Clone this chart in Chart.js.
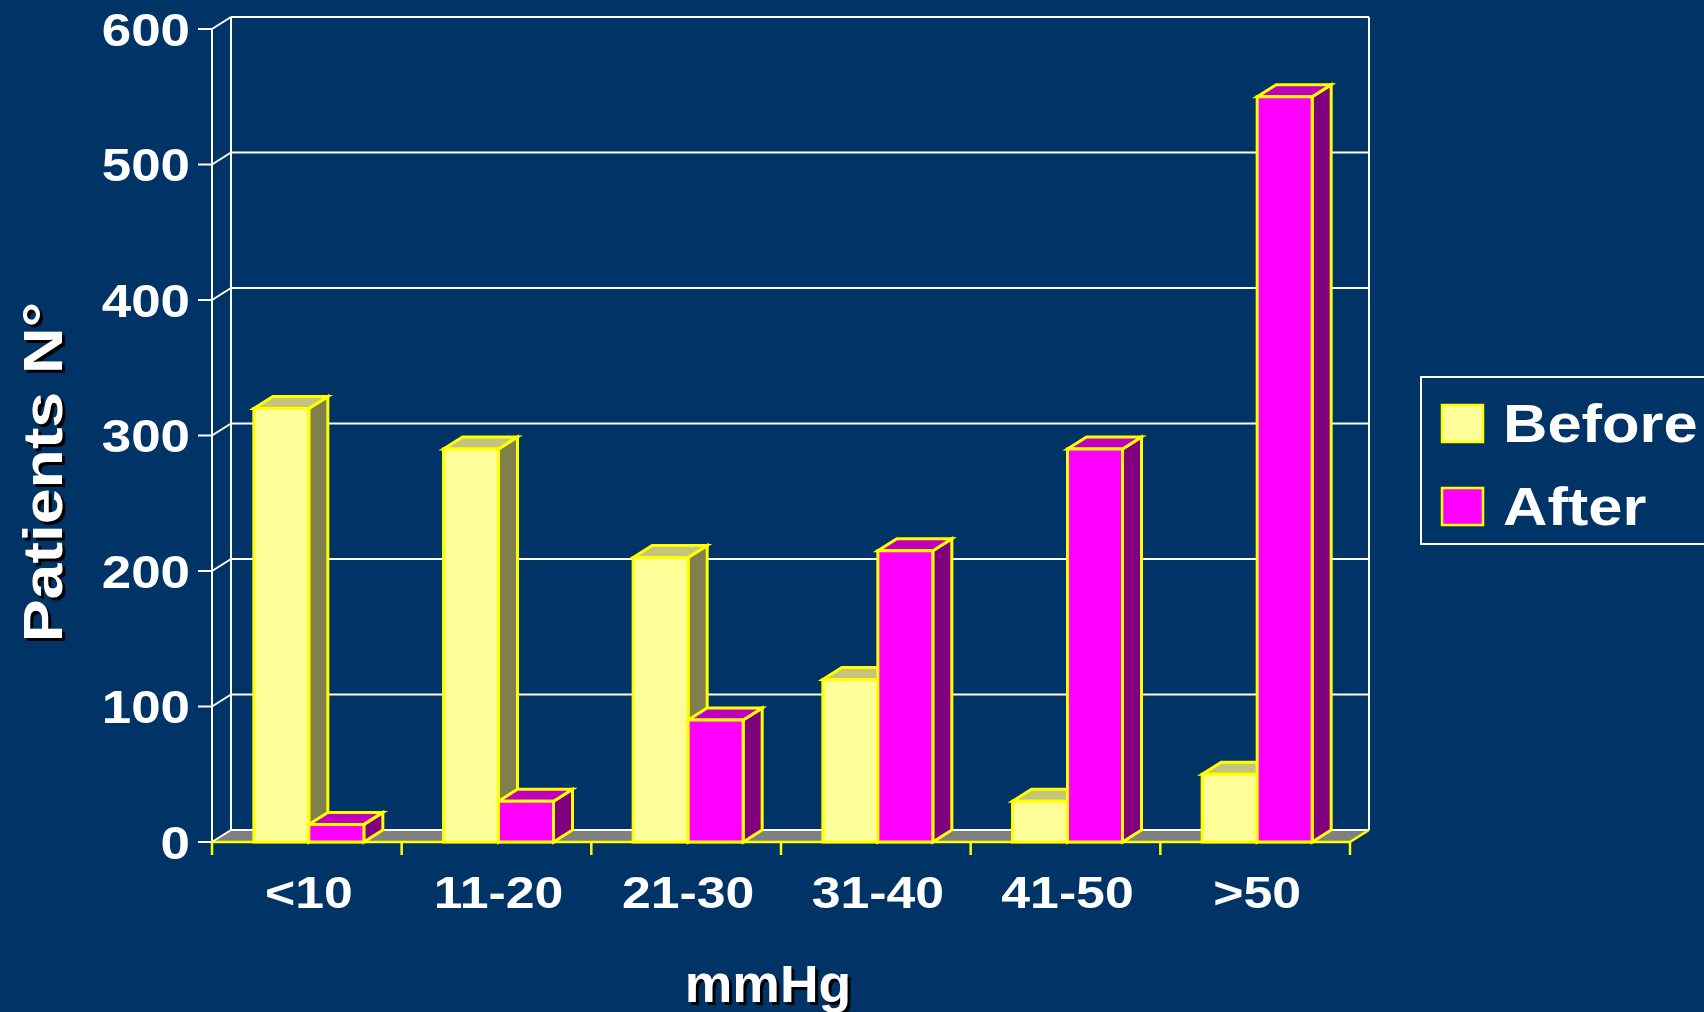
<!DOCTYPE html>
<html>
<head>
<meta charset="utf-8">
<title>Patients N° – Before / After</title>
<script src="https://cdn.jsdelivr.net/npm/chart.js@4/dist/chart.umd.min.js"></script>
<style>
  html, body { margin: 0; padding: 0; background: #003366; overflow: hidden; }
  #wrap { width: 1704px; height: 1012px; position: relative; }
</style>
</head>
<body>
<div id="wrap"><canvas id="c" width="1704" height="1012"></canvas></div>
<script>
// Pressure classes (mmHg) and patient counts per class
const categories = ['<10', '11-20', '21-30', '31-40', '41-50', '>50'];
const beforeValues = [320, 290, 210, 120, 30, 50];
const afterValues = [13, 30, 90, 215, 290, 550];
const yTicks = [0, 100, 200, 300, 400, 500, 600];
const seriesNames = ['Before', 'After'];

const FONT = '"Liberation Sans", Arial, Helvetica, sans-serif';
const BG = '#003366';
const DEPTH_X = 19, DEPTH_Y = -12;   // oblique depth of the 3D box
const BAR_SHIFT = 2;                 // bar cluster sits slightly right of the category centre
const EDGE = '#FFFF00';
const EDGE_W = 3;

const faces = [
  { front: '#FFFF99', top: '#C4C47A', side: '#80804D' },  // Before
  { front: '#FF00FF', top: '#BF00BF', side: '#800080' }   // After
];

function drawText(ctx, text, x, y, o) {
  ctx.save();
  ctx.translate(x, y);
  if (o.rotate) ctx.rotate(o.rotate);
  ctx.scale(o.stretch || 1, 1);
  ctx.font = 'bold ' + o.size + 'px ' + FONT;
  ctx.textAlign = o.align || 'left';
  ctx.textBaseline = 'alphabetic';
  if (o.shadow) {
    ctx.shadowColor = '#000000';
    ctx.shadowOffsetX = 3;
    ctx.shadowOffsetY = 3;
    ctx.shadowBlur = 0;
  }
  ctx.fillStyle = '#FFFFFF';
  ctx.fillText(text, 0, 0);
  ctx.restore();
}

function poly(ctx, pts, fill, stroke, lw) {
  ctx.beginPath();
  ctx.moveTo(pts[0][0], pts[0][1]);
  for (let i = 1; i < pts.length; i++) ctx.lineTo(pts[i][0], pts[i][1]);
  ctx.closePath();
  if (fill) { ctx.fillStyle = fill; ctx.fill(); }
  if (stroke) { ctx.strokeStyle = stroke; ctx.lineWidth = lw; ctx.lineJoin = 'miter'; ctx.stroke(); }
}

function line(ctx, x0, y0, x1, y1, color, lw) {
  ctx.beginPath();
  ctx.moveTo(x0, y0);
  ctx.lineTo(x1, y1);
  ctx.strokeStyle = color;
  ctx.lineWidth = lw;
  ctx.stroke();
}

// Background, back wall with gridlines, floor, axes and labels
const frame3d = {
  id: 'frame3d',
  beforeDraw(chart) {
    const ctx = chart.ctx;
    ctx.save();
    ctx.fillStyle = BG;
    ctx.fillRect(0, 0, chart.width, chart.height);
    ctx.restore();
  },
  beforeDatasetsDraw(chart) {
    const ctx = chart.ctx;
    const xs = chart.scales.x, ys = chart.scales.y;
    const L = xs.left, R = xs.right;
    const y0 = ys.getPixelForValue(0);
    const yTop = ys.getPixelForValue(yTicks[yTicks.length - 1]);
    ctx.save();

    // floor
    poly(ctx, [[L, y0], [R, y0], [R + DEPTH_X, y0 + DEPTH_Y], [L + DEPTH_X, y0 + DEPTH_Y]], '#808080');

    // back wall gridlines + left diagonals + tick marks
    yTicks.forEach(v => {
      const y = ys.getPixelForValue(v);
      line(ctx, L + DEPTH_X, y + DEPTH_Y, R + DEPTH_X, y + DEPTH_Y, '#FFFFFF', 2);
      line(ctx, L, y, L + DEPTH_X, y + DEPTH_Y, '#FFFFFF', 2);
      line(ctx, L - 14, y, L, y, '#FFFFFF', 2);
      drawText(ctx, String(v), L - 22, y + 16.5, { size: 46, align: 'right', stretch: 1.15 });
    });
    // wall verticals
    line(ctx, L + DEPTH_X, yTop + DEPTH_Y, L + DEPTH_X, y0 + DEPTH_Y, '#FFFFFF', 2);
    line(ctx, R + DEPTH_X, yTop + DEPTH_Y, R + DEPTH_X, y0 + DEPTH_Y, '#FFFFFF', 2);
    // front value axis
    line(ctx, L, yTop, L, y0, '#FFFFFF', 2);

    // category axis (front edge of floor)
    line(ctx, L, y0, R, y0, EDGE, 2.5);
    line(ctx, R, y0, R + DEPTH_X, y0 + DEPTH_Y, EDGE, 2.5);
    const n = categories.length;
    const step = (R - L) / n;
    for (let i = 0; i <= n; i++) {
      const x = L + i * step;
      line(ctx, x, y0, x, y0 + 13, EDGE, 2.5);
    }
    categories.forEach((c, i) => {
      drawText(ctx, c, xs.getPixelForValue(i) + 2, 908, { size: 45, align: 'center', stretch: 1.15 });
    });

    // axis titles
    drawText(ctx, 'mmHg', 768, 1002, { size: 51, align: 'center', stretch: 1.05, shadow: true });
    drawText(ctx, 'Patients N°', 62, 472, { size: 56, align: 'center', stretch: 1.15, shadow: true, rotate: -Math.PI / 2 });

    // legend
    ctx.strokeStyle = '#FFFFFF';
    ctx.lineWidth = 2;
    ctx.strokeRect(1421, 377, 320, 167);
    const swY = [405, 488];
    seriesNames.forEach((name, k) => {
      ctx.fillStyle = faces[k].front;
      ctx.fillRect(1442, swY[k], 41, 37);
      ctx.strokeStyle = EDGE;
      ctx.lineWidth = 2.5;
      ctx.strokeRect(1442, swY[k], 41, 37);
      drawText(ctx, name, 1503, swY[k] + 37, { size: 53, align: 'left', stretch: 1.16 });
    });
    ctx.restore();
  },
  afterDatasetsDraw(chart) {
    const ctx = chart.ctx;
    const metas = chart.data.datasets.map((d, k) => chart.getDatasetMeta(k));
    ctx.save();
    for (let i = 0; i < categories.length; i++) {
      metas.forEach((meta, k) => {
        const bar = meta.data[i];
        const x0 = bar.x - bar.width / 2 + BAR_SHIFT, x1 = bar.x + bar.width / 2 + BAR_SHIFT;
        const yt = bar.y, yb = bar.base;
        const f = faces[k];
        // side face
        poly(ctx, [[x1, yt], [x1 + DEPTH_X, yt + DEPTH_Y], [x1 + DEPTH_X, yb + DEPTH_Y], [x1, yb]], f.side, EDGE, EDGE_W);
        // top face
        poly(ctx, [[x0, yt], [x1, yt], [x1 + DEPTH_X, yt + DEPTH_Y], [x0 + DEPTH_X, yt + DEPTH_Y]], f.top, EDGE, EDGE_W);
        // front face
        poly(ctx, [[x0, yt], [x1, yt], [x1, yb], [x0, yb]], f.front, EDGE, EDGE_W);
      });
    }
    ctx.restore();
  }
};

new Chart(document.getElementById('c'), {
  type: 'bar',
  data: {
    labels: categories,
    datasets: [
      { label: seriesNames[0], data: beforeValues, backgroundColor: 'rgba(0,0,0,0)', borderWidth: 0 },
      { label: seriesNames[1], data: afterValues, backgroundColor: 'rgba(0,0,0,0)', borderWidth: 0 }
    ]
  },
  options: {
    responsive: false,
    animation: false,
    events: [],
    categoryPercentage: 0.58,
    barPercentage: 1.0,
    layout: { padding: { left: 212, right: 354, top: 29, bottom: 170 } },
    plugins: { legend: { display: false }, tooltip: { enabled: false }, title: { display: false } },
    scales: {
      x: { display: false, offset: true },
      y: { display: false, min: 0, max: 600, ticks: { stepSize: 100 } }
    }
  },
  plugins: [frame3d]
});
</script>
</body>
</html>
